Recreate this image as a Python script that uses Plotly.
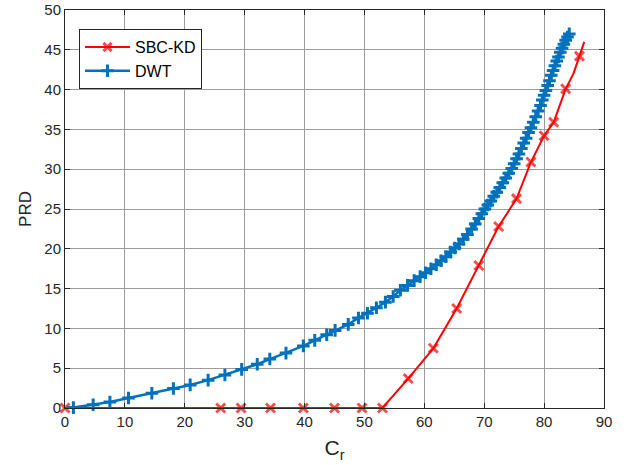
import plotly.graph_objects as go

# SBC-KD series
sbc_x = [0, 26.0, 29.4, 34.3, 39.8, 45.0, 49.6, 53.0, 57.3, 61.5, 65.4, 69.1,
         72.4, 75.4, 77.8, 80.0, 81.6, 83.6, 84.9, 85.9, 86.7]
sbc_y = [0, 0, 0, 0, 0, 0, 0, 0, 3.7, 7.5, 12.5, 17.9,
         22.8, 26.3, 30.9, 34.2, 35.9, 40.1, 42.0, 44.2, 46.0]
sbc_marked = [True] * 18 + [False, True, False]

# DWT series
dwt_x = [1.4, 4.7, 7.5, 10.6, 14.5, 18.1, 20.9, 23.9, 26.7, 29.5, 32.1, 34.2,
         36.9, 39.8, 41.7, 43.7, 45.1, 47.3, 49.0, 50.5, 52.0, 53.5, 54.8, 56.0,
         57.2, 58.3, 59.3, 60.2, 61.1, 62.0, 62.8, 63.6, 64.4, 65.1, 65.8, 66.5,
         67.2, 67.9, 68.5, 69.1, 69.6, 70.1, 70.6, 71.1, 71.6, 72.1, 72.6, 73.1,
         73.6, 74.1, 74.6, 75.0, 75.4, 75.8, 76.2, 76.6, 77.0, 77.4, 77.8, 78.2,
         78.6, 79.0, 79.4, 79.7, 80.0, 80.3, 80.6, 80.9, 81.2, 81.5, 81.8, 82.1,
         82.4, 82.7, 83.0, 83.3, 83.6, 83.9, 84.2]
dwt_y = [0.05, 0.4, 0.75, 1.25, 1.85, 2.45, 2.9, 3.5, 4.15, 4.85, 5.5, 6.15,
         6.9, 7.8, 8.5, 9.2, 9.75, 10.5, 11.3, 11.9, 12.6, 13.3, 14.0, 14.8,
         15.4, 16.0, 16.5, 17.0, 17.5, 18.0, 18.5, 19.0, 19.6, 20.1, 20.6, 21.2,
         21.8, 22.5, 23.1, 23.8, 24.4, 25.0, 25.5, 26.0, 26.6, 27.1, 27.7, 28.3,
         28.9, 29.5, 30.1, 30.7, 31.3, 31.9, 32.6, 33.3, 33.9, 34.6, 35.2, 35.9,
         36.6, 37.3, 38.0, 38.7, 39.3, 39.9, 40.5, 41.1, 41.8, 42.4, 43.0, 43.6,
         44.1, 44.7, 45.2, 45.7, 46.2, 46.6, 47.0]

x_ticks = [0, 10, 20, 30, 40, 50, 60, 70, 80, 90]
y_ticks = [0, 5, 10, 15, 20, 25, 30, 35, 40, 45, 50]

RED = "#FF0000"
BLUE = "#0072BD"
AX = "#262626"
FONT = "Liberation Sans, Arial, sans-serif"

fig = go.Figure()
fig.add_trace(go.Scatter(
    x=sbc_x, y=sbc_y, mode="lines+markers", name="SBC-KD",
    line=dict(color=RED, width=2),
    marker=dict(symbol="x-thin", size=[9 if m else 0 for m in sbc_marked],
                color=RED, line=dict(color=RED, width=3)),
    cliponaxis=False,
))
fig.add_trace(go.Scatter(
    x=dwt_x, y=dwt_y, mode="lines+markers", name="DWT",
    line=dict(color=BLUE, width=2.5),
    marker=dict(symbol="cross-thin", size=9, color=BLUE,
                line=dict(color=BLUE, width=3)),
    cliponaxis=False,
))

axis_common = dict(
    showline=True, linecolor=AX, linewidth=1, mirror="ticks",
    ticks="inside", ticklen=5, tickcolor=AX, tickwidth=1,
    showgrid=True, gridcolor="#9c9c9c", gridwidth=1,
    zeroline=False, automargin=False, ticklabeloverflow="allow",
    tickfont=dict(family=FONT, size=15, color=AX),
)

fig.update_layout(
    width=632, height=465,
    margin=dict(l=65, r=28, t=10, b=57, autoexpand=False),
    paper_bgcolor="white", plot_bgcolor="white",
    font=dict(family=FONT, color=AX),
    showlegend=True,
    legend=dict(
        x=0.026, y=0.952, xanchor="left", yanchor="top",
        bgcolor="white", bordercolor=AX, borderwidth=1,
        font=dict(family=FONT, size=16, color="black"),
        tracegroupgap=0, itemwidth=45,
    ),
    xaxis=dict(range=[0, 90], tickvals=x_ticks,
               title=dict(text="C<sub>r</sub>", font=dict(family=FONT, size=21, color=AX), standoff=11),
               **axis_common),
    yaxis=dict(range=[0, 50], tickvals=y_ticks,
               title=dict(text="PRD", font=dict(family=FONT, size=17, color=AX), standoff=8),
               **axis_common),
)

fig.write_html("out.html", config={"displayModeBar": False},
               post_script="document.body.style.margin='0';")
